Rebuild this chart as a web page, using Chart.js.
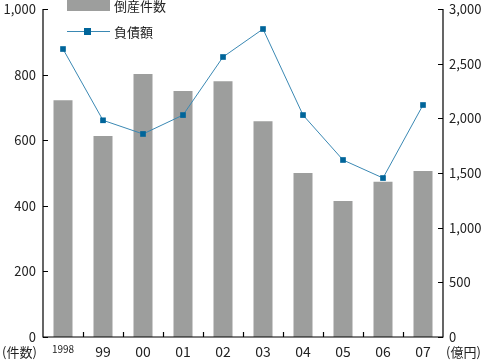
<!DOCTYPE html>
<html><head><meta charset="utf-8">
<script src="https://cdn.jsdelivr.net/npm/chart.js@4/dist/chart.umd.min.js"></script>
<style>html,body{margin:0;padding:0;background:#fff}#wrap{width:487px;height:361px;position:relative}</style>
</head><body><div id="wrap"><canvas id="c" width="487" height="361"></canvas></div>
<script>
const categories = ["1998","99","00","01","02","03","04","05","06","07"];
const bankruptcies = [722, 613, 802, 750, 780, 658, 500, 415, 473, 506];
const debt = [2634, 1982, 1857, 2030, 2561, 2817, 2030, 1619, 1454, 2122];
const leftTicks = [0, 200, 400, 600, 800, 1000];
const rightTicks = [0, 500, 1000, 1500, 2000, 2500, 3000];
const seriesNames = ["倒産件数", "負債額"];
const unitLeft = "(件数)", unitRight = "(億円)";

const FONT = "'Noto Sans CJK JP','Noto Sans',sans-serif";
const BAR = '#9d9e9d', LINE = '#3a88b3', MARK = '#00659a', TXT = '#222';

const deco = {
  id: 'deco',
  afterDraw(chart) {
    const ctx = chart.ctx, a = chart.chartArea;
    const yl = chart.scales.y, yr = chart.scales.y2, x = chart.scales.x;
    ctx.save();
    ctx.strokeStyle = '#000'; ctx.lineWidth = 1.2;
    ctx.beginPath();
    ctx.moveTo(a.left, a.top); ctx.lineTo(a.left, a.bottom); ctx.lineTo(a.right, a.bottom); ctx.lineTo(a.right, a.top);
    leftTicks.forEach(v => { const p = Math.round(yl.getPixelForValue(v)) + 0.5; ctx.moveTo(a.left, p); ctx.lineTo(a.left + 5, p); });
    rightTicks.forEach(v => { const p = Math.round(yr.getPixelForValue(v)) + 0.5; ctx.moveTo(a.right, p); ctx.lineTo(a.right - 5, p); });
    for (let i = 1; i < categories.length; i++) {
      const p = Math.round((x.getPixelForValue(i - 1) + x.getPixelForValue(i)) / 2) + 0.5;
      ctx.moveTo(p, a.bottom); ctx.lineTo(p, a.bottom - 5);
    }
    ctx.stroke();
    // unit labels
    ctx.fillStyle = TXT; ctx.font = '13px ' + FONT; ctx.textBaseline = 'middle';
    ctx.textAlign = 'left'; ctx.fillText(unitLeft, 2, 352);
    ctx.fillText(unitRight, 446, 352);
    // legend
    ctx.fillStyle = BAR; ctx.fillRect(67, -1, 43, 12);
    ctx.strokeStyle = LINE; ctx.lineWidth = 1;
    ctx.beginPath(); ctx.moveTo(67, 31.5); ctx.lineTo(110, 31.5); ctx.stroke();
    ctx.fillStyle = MARK; ctx.fillRect(84, 28, 7, 7);
    ctx.fillStyle = TXT; ctx.font = '13px ' + FONT;
    ctx.fillText(seriesNames[0], 114, 6);
    ctx.fillText(seriesNames[1], 114, 32);
    ctx.restore();
  }
};

function fitY(w) {
  return (s) => { s.width = w; s.paddingTop = 0; s.paddingBottom = 0; };
}

new Chart(document.getElementById('c'), {
  data: {
    labels: categories,
    datasets: [
      { type: 'line', label: seriesNames[1], data: debt, yAxisID: 'y2', borderColor: LINE, borderWidth: 1,
        pointStyle: 'rect', pointRadius: 4, pointBackgroundColor: MARK, pointBorderColor: MARK, pointBorderWidth: 0, tension: 0, order: 0 },
      { type: 'bar', label: seriesNames[0], data: bankruptcies, yAxisID: 'y', backgroundColor: BAR,
        barPercentage: 0.95, categoryPercentage: 0.5, order: 1 }
    ]
  },
  options: {
    responsive: false, animation: false, devicePixelRatio: 1,
    layout: { padding: { top: 9, left: 0, right: 0, bottom: 0 } },
    plugins: { legend: { display: false }, tooltip: { enabled: false } },
    scales: {
      x: { offset: true, grid: { display: false, drawTicks: false }, border: { display: false },
        ticks: { color: TXT, padding: 6, maxRotation: 0,
          font: (c) => c.index === 0 ? { family: FONT, size: 10 } : { family: FONT, size: 14 } },
        afterFit: (s) => { s.height = 24; s.paddingLeft = 0; s.paddingRight = 0; } },
      y: { position: 'left', min: 0, max: 1000, grid: { display: false, drawTicks: false }, border: { display: false },
        afterBuildTicks: (s) => { s.ticks = leftTicks.map(v => ({ value: v })); },
        ticks: { color: TXT, padding: 7, font: { family: FONT, size: 13 } },
        afterFit: fitY(43) },
      y2: { position: 'right', min: 0, max: 3000, grid: { display: false, drawTicks: false }, border: { display: false },
        afterBuildTicks: (s) => { s.ticks = rightTicks.map(v => ({ value: v })); },
        ticks: { color: TXT, padding: 6, font: { family: FONT, size: 13 } },
        afterFit: fitY(44) }
    }
  },
  plugins: [deco]
});
</script></body></html>
